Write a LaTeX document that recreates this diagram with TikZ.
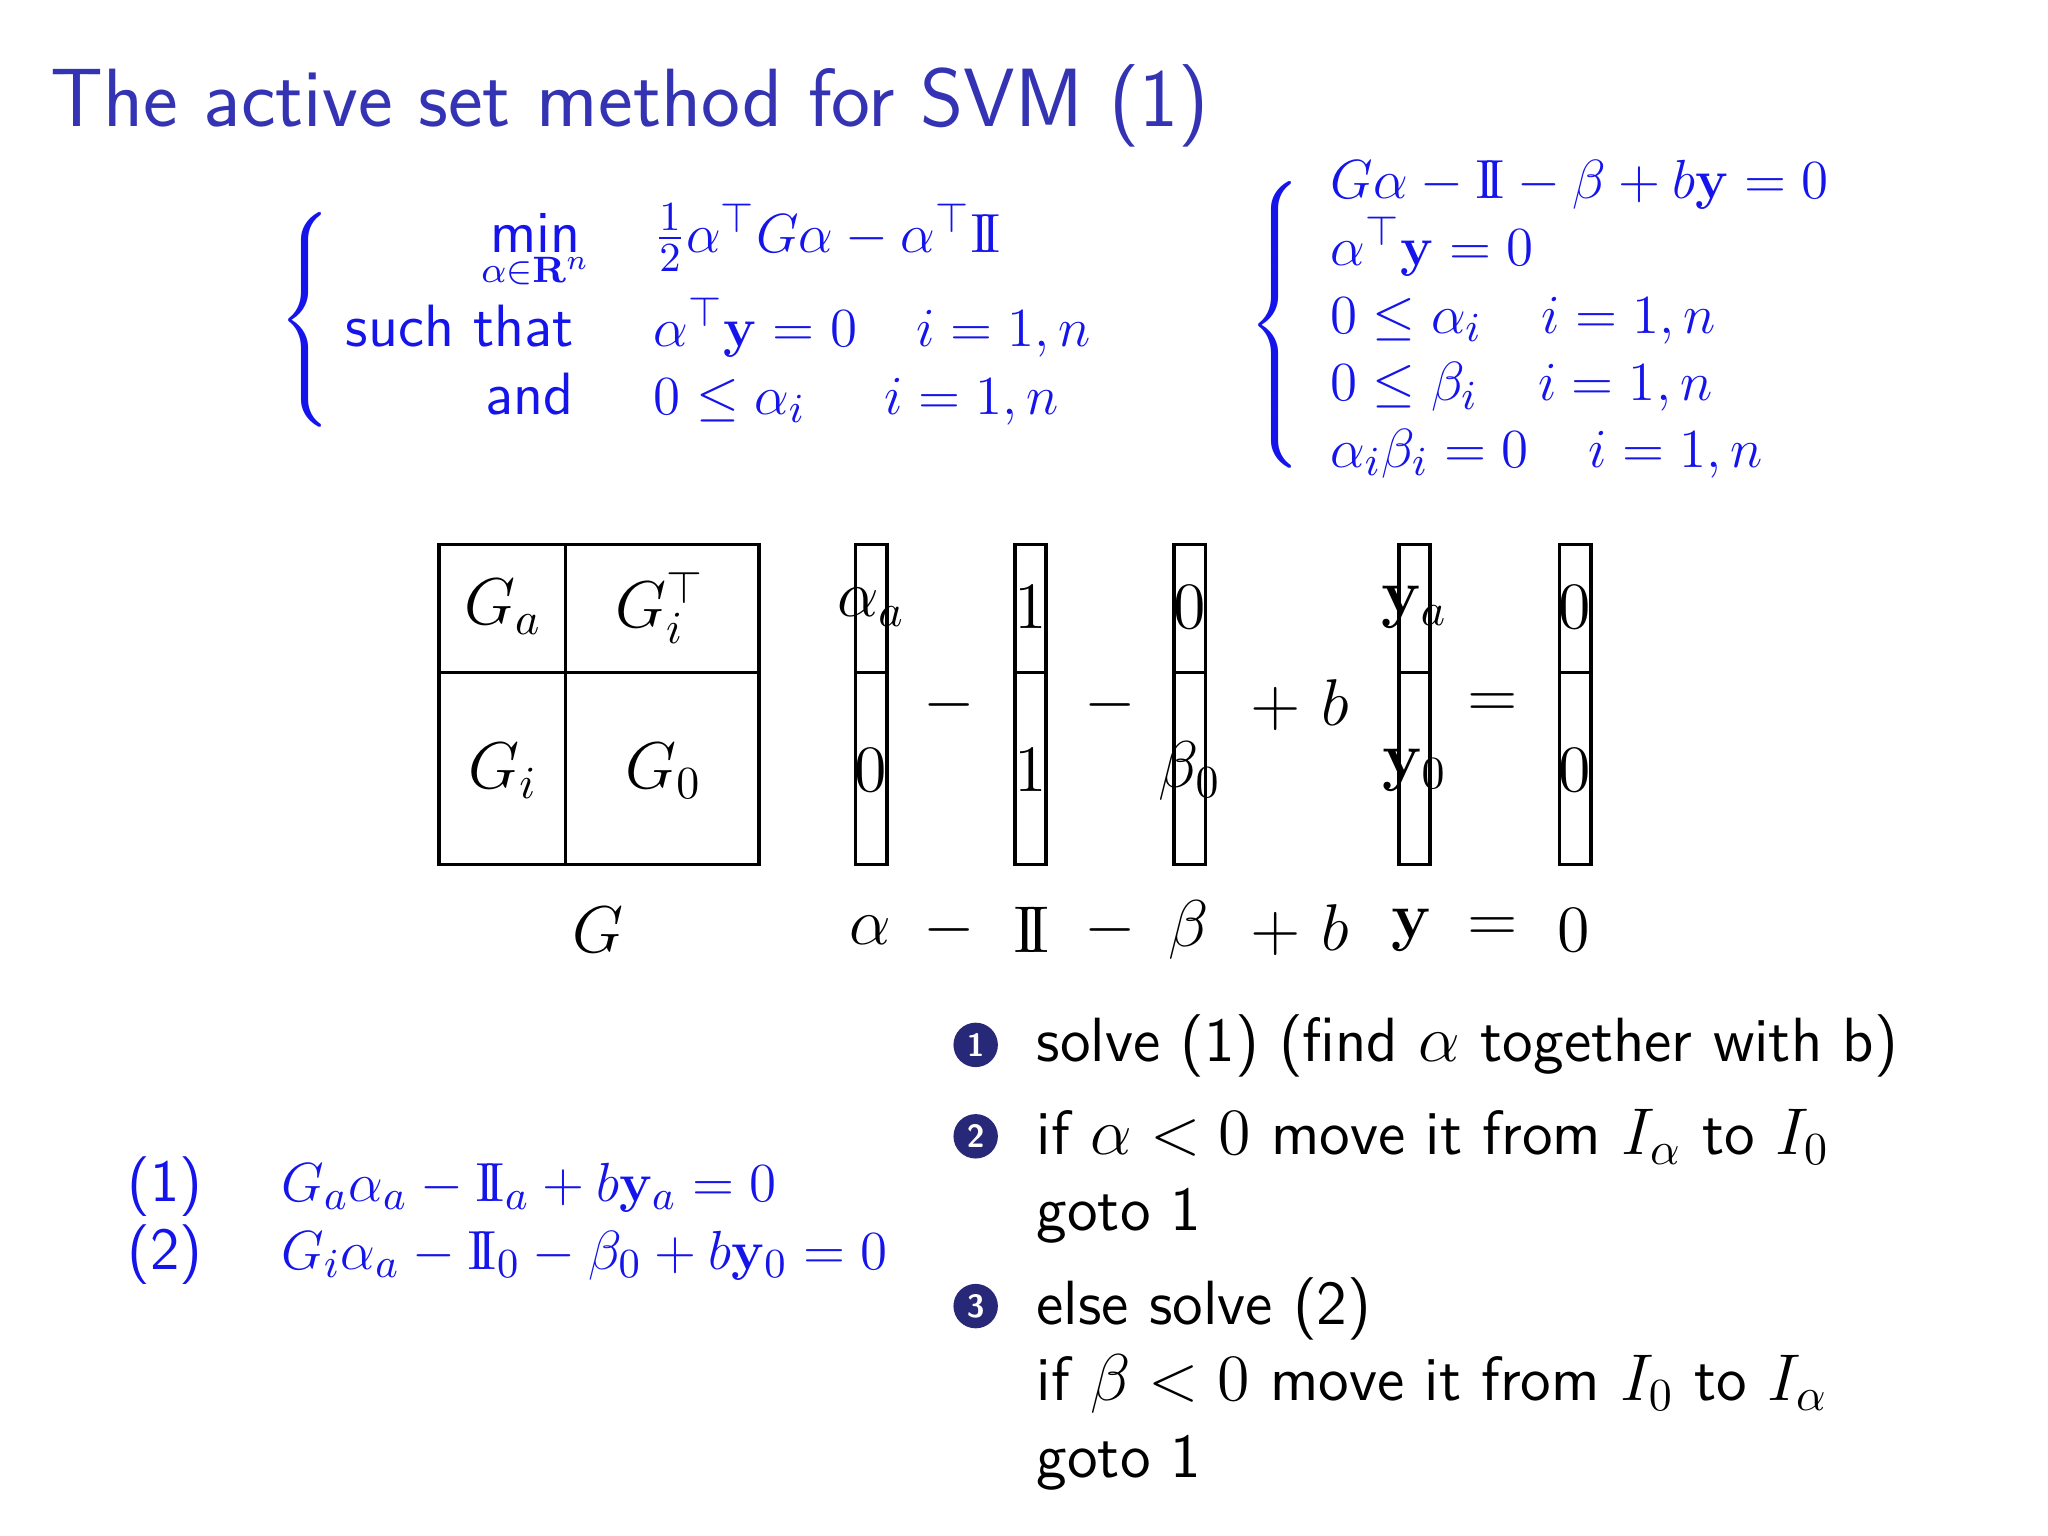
\documentclass[tikz,border=0pt]{standalone}
\usepackage{amsmath,amssymb}
\newcommand{\one}{\mathrm{I\!I}}
\definecolor{ttl}{RGB}{51,51,179}
\definecolor{bl}{RGB}{20,20,235}
\definecolor{ball}{RGB}{40,40,120}
\begin{document}
\begin{tikzpicture}[x=0.01cm,y=-0.01cm,
  bt/.style={font=\sffamily\fontsize{13}{15}\selectfont,text=bl,inner sep=0},
  mt/.style={font=\sffamily\fontsize{14}{16}\selectfont,inner sep=0},
  lt/.style={font=\sffamily\fontsize{13.6}{16}\selectfont,inner sep=0,anchor=base west},
  vec/.style={draw,thick},
  bb/.style={circle,fill=ball,text=white,inner sep=0,minimum size=0.34cm,font=\sffamily\fontsize{7}{8}\selectfont\bfseries}]
\useasboundingbox (0,0) rectangle (1568,1176);
\node[anchor=base west,inner sep=0,text=ttl,font=\sffamily\fontsize{18}{22}\selectfont] (title) at (38,97) {The active set method for SVM (1)};
% left system
\node[bt] (lb) at (236,245) {$\left\{\rule{0pt}{0.88cm}\right.$};
\node[bt,anchor=base] (min) at (410,193) {min};
\node[bt,anchor=base,font=\sffamily\fontsize{8.5}{10}\selectfont] (minsub) at (410,216) {$\alpha{\in}\mathbf{R}^n$};
\node[bt,anchor=base east] (st) at (440,265) {such that};
\node[bt,anchor=base east] (and) at (440,317) {and};
\node[bt,anchor=base west] (f1) at (500,193) {$\tfrac12\alpha^\top G\alpha-\alpha^\top\one$};
\node[bt,anchor=base west] (f2) at (500,265) {$\alpha^\top\mathbf{y}=0\quad i=1,n$};
\node[bt,anchor=base west] (f3) at (500,317) {$0\le\alpha_i\quad\ i=1,n$};
% right system
\node[bt] (rb) at (978,245) {$\left\{\rule{0pt}{1.28cm}\right.$};
\node[bt,anchor=base west] (r1) at (1018,152) {$G\alpha-\one-\beta+b\mathbf{y}=0$};
\node[bt,anchor=base west] (r2) at (1018,203) {$\alpha^\top\mathbf{y}=0$};
\node[bt,anchor=base west] (r3) at (1018,255) {$0\le\alpha_i\quad i=1,n$};
\node[bt,anchor=base west] (r4) at (1018,307) {$0\le\beta_i\quad i=1,n$};
\node[bt,anchor=base west] (r5) at (1018,358) {$\alpha_i\beta_i=0\quad i=1,n$};
% matrix
\draw[vec] (336,417) rectangle (581,662);
\draw[vec] (433,417) -- (433,662) (336,515) -- (581,515);
\node[mt] (ga) at (385,465) {$G_a$};
\node[mt] (git) at (505,465) {$G_i^\top$};
\node[mt] (gi) at (385,590) {$G_i$};
\node[mt] (g0) at (508,590) {$G_0$};
\foreach \x/\a/\b/\n in {655/\alpha_a/0/va,777/1/1/vo,899/0/\beta_0/vb,1071/\mathbf{y}_a/\mathbf{y}_0/vy,1194/0/0/vz}{
  \draw[vec] (\x,417) rectangle (\x+24,662) (\x,515) -- (\x+24,515);
  \node[mt] (\n t) at (\x+12,465) {$\a$};
  \node[mt] (\n b) at (\x+12,590) {$\b$};
}
\node[mt] (o1) at (727,540) {$-$};
\node[mt] (o2) at (850,540) {$-$};
\node[mt] (o3) at (995,540) {$+\ b$};
\node[mt] (o4) at (1143,540) {$=$};
\foreach \x/\t/\n in {458/G/bg,666/\alpha/ba,727/-/bm1,790/\one/bo,850/-/bm2,910/\beta/bbeta,995/+\ b/bpb,1081/\mathbf{y}/by,1143/=/beq,1205/0/bz}
  \node[mt] (\n) at (\x,712) {$\t$};
% list
\node[bb] (n1) at (747,800) {1};
\node[bb] (n2) at (747,870) {2};
\node[bb] (n3) at (747,1000) {3};
\node[lt] (l1) at (793,813) {solve (1) (find $\alpha$ together with b)};
\node[lt] (l2) at (793,884) {if $\alpha<0$ move it from $I_\alpha$ to $I_0$};
\node[lt] (l3) at (793,942) {goto 1};
\node[lt] (l4) at (793,1014) {else solve (2)};
\node[lt] (l5) at (793,1072) {if $\beta<0$ move it from $I_0$ to $I_\alpha$};
\node[lt] (l6) at (793,1131) {goto 1};
% left equations
\node[bt,anchor=base west] (e1) at (97,920) {(1)\quad\ $G_a\alpha_a-\one_a+b\mathbf{y}_a=0$};
\node[bt,anchor=base west] (e2) at (97,972) {(2)\quad\ $G_i\alpha_a-\one_0-\beta_0+b\mathbf{y}_0=0$};
\end{tikzpicture}
\end{document}
